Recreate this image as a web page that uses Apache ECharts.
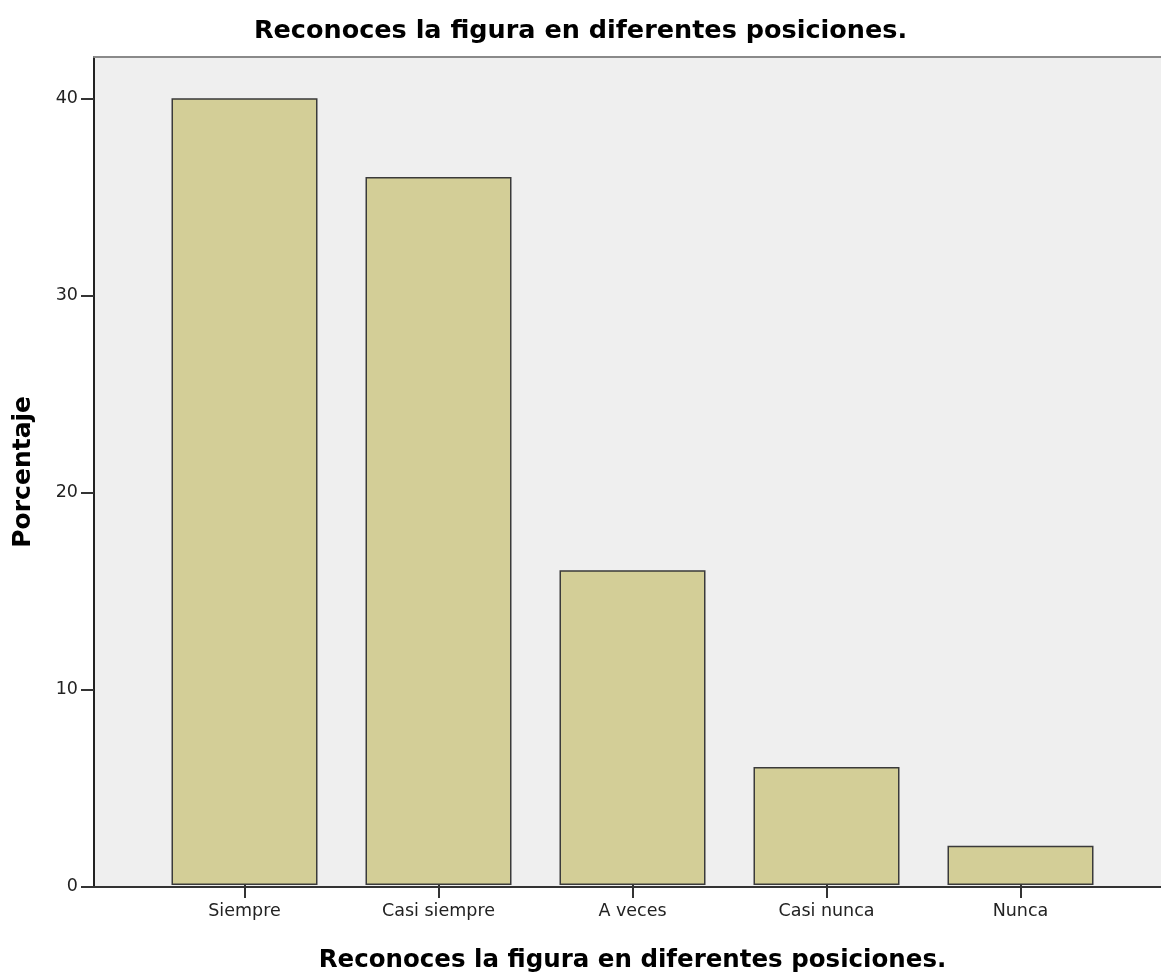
<!DOCTYPE html>
<html>
<head>
<meta charset="utf-8">
<script src="https://cdn.jsdelivr.net/npm/echarts@6/dist/echarts.min.js"></script>
<style>html,body{margin:0;padding:0;background:#fff;}#c{width:1161px;height:978px;}</style>
</head>
<body>
<div id="c"></div>
<script>
var titleText = 'Reconoces la figura en diferentes posiciones.';
var xName = 'Reconoces la figura en diferentes posiciones.';
var yName = 'Porcentaje';
var categories = ['Siempre', 'Casi siempre', 'A veces', 'Casi nunca', 'Nunca'];
var values = [40, 36, 16, 6, 2];
var yTicks = [0, 10, 20, 30, 40];
var yMax = 42.1;

var chart = echarts.init(document.getElementById('c'), null, {renderer: 'canvas'});
var font = 'DejaVu Sans';
var option = {
  animation: false,
  backgroundColor: '#ffffff',
  title: {
    text: titleText, left: 'center', top: 13,
    textStyle: {fontFamily: font, fontWeight: 'bold', fontSize: 25.5, color: '#000'}
  },
  grid: [
    {left: 94, top: 57, width: 1077, height: 829.7, show: true, backgroundColor: '#efefef', borderWidth: 0},
    {left: 147.5, top: 57, width: 970, height: 829.7, show: false}
  ],
  xAxis: [
    {gridIndex: 0, type: 'value', min: 0, max: 1, axisLine: {show: true, lineStyle: {color: '#333', width: 2}},
     axisTick: {show: false}, axisLabel: {show: false}, splitLine: {show: false}},
    {gridIndex: 0, type: 'value', position: 'top', min: 0, max: 1, axisLine: {show: true, lineStyle: {color: '#8a8a8a', width: 2}},
     axisTick: {show: false}, axisLabel: {show: false}, splitLine: {show: false}},
    {gridIndex: 1, type: 'category', data: categories, axisLine: {show: false},
     axisTick: {show: true, alignWithLabel: true, length: 13, lineStyle: {color: '#333', width: 2}},
     axisLabel: {fontFamily: font, fontSize: 17.5, color: '#222', margin: 17},
     name: xName, nameLocation: 'middle', nameGap: 63,
     nameTextStyle: {fontFamily: font, fontWeight: 'bold', fontSize: 24.5, color: '#000'}}
  ],
  yAxis: [
    {gridIndex: 0, type: 'value', min: 0, max: yMax, interval: 10,
     axisLine: {show: true, lineStyle: {color: '#222', width: 2}},
     axisTick: {show: true, length: 13, customValues: yTicks, lineStyle: {color: '#333', width: 2}},
     axisLabel: {fontFamily: font, fontSize: 17.5, color: '#222', margin: 16, customValues: yTicks},
     splitLine: {show: false},
     name: yName, nameLocation: 'middle', nameGap: 58, nameRotate: 90,
     nameTextStyle: {fontFamily: font, fontWeight: 'bold', fontSize: 25, color: '#000'}},
    {gridIndex: 1, type: 'value', min: 0, max: yMax, show: false, splitLine: {show: false}}
  ],
  series: [{
    type: 'bar', xAxisIndex: 2, yAxisIndex: 1, data: values, barWidth: 146,
    itemStyle: {color: '#d3ce97', borderColor: '#3a3a3a', borderWidth: 1.5}
  }]
};
chart.setOption(option);
</script>
</body>
</html>
